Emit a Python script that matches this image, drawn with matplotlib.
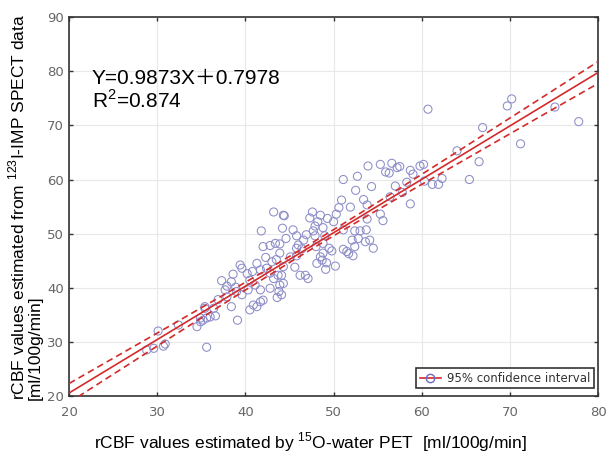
import numpy as np
import matplotlib
matplotlib.use("Agg")
import matplotlib.pyplot as plt
from matplotlib.lines import Line2D

plt.rcParams['font.family'] = ['Liberation Sans', 'Noto Sans CJK JP', 'DejaVu Sans']
plt.rcParams['mathtext.fontset'] = 'custom'
plt.rcParams['mathtext.rm'] = 'Liberation Sans'

# PET (x) vs SPECT (y) rCBF values
pet = [28.8, 29.6, 30.1, 30.7, 30.9, 32.4, 34.5, 34.9, 35.2, 35.6, 35.4, 35.6, 34.9, 36.0, 36.6,
       36.4, 35.4, 38.4, 39.1, 40.5, 41.3, 40.9, 42.0, 41.7, 37.7, 37.9, 39.0, 39.6, 42.8, 43.9,
       43.8, 43.6, 40.5, 41.1, 40.3, 41.7, 38.6, 37.3, 38.4, 37.9, 41.3, 41.7, 42.4, 42.8, 43.2,
       43.7, 39.4, 39.6, 43.9, 43.5, 43.0, 42.0, 42.8, 43.4, 41.8, 43.2, 44.3, 44.2, 45.4, 45.8,
       46.6, 44.6, 43.9, 46.0, 46.4, 45.1, 45.8, 45.8, 45.6, 46.2, 46.8, 47.1, 44.3, 44.1, 44.3,
       44.1, 47.6, 48.5, 48.2, 49.3, 50.3, 50.0, 44.4, 47.7, 47.9, 48.8, 49.0, 47.9, 48.0, 48.8,
       49.5, 49.8, 48.8, 48.7, 49.2, 50.2, 49.1, 48.1, 48.5, 51.1, 51.5, 52.2, 51.7, 51.1, 52.4,
       53.0, 53.7, 52.1, 52.8, 52.4, 54.1, 53.6, 54.5, 53.8, 51.1, 52.7, 53.9, 52.5, 50.9, 51.9,
       53.4, 53.8, 55.3, 55.6, 54.3, 57.0, 55.3, 55.9, 56.3, 56.6, 57.2, 57.5, 58.7, 59.0, 58.3,
       60.3, 58.7, 60.2, 59.8, 62.3, 61.9, 61.2, 60.7, 64.0, 65.4, 66.5, 66.9, 71.2, 69.7, 70.2,
       75.1, 77.8, 56.4, 57.8, 40.2, 42.3, 46.9, 50.6, 47.3, 36.9, 38.9, 40.8]
spect = [28.5, 28.8, 32.0, 29.2, 29.6, 33.1, 32.8, 33.7, 34.0, 34.4, 36.2, 29.0, 34.4, 34.6, 34.8,
         36.2, 36.5, 36.5, 34.0, 35.9, 36.5, 36.8, 37.7, 37.4, 39.6, 38.3, 39.3, 38.7, 39.9, 40.5,
         39.3, 38.2, 41.4, 40.5, 39.6, 39.6, 42.5, 41.3, 41.1, 40.3, 44.5, 43.3, 43.6, 42.7, 41.7,
         42.3, 44.2, 43.6, 46.4, 45.2, 44.8, 47.6, 47.8, 48.2, 50.5, 54.0, 53.4, 51.0, 50.7, 49.6,
         48.8, 49.1, 48.1, 47.9, 47.2, 45.7, 47.3, 45.9, 43.8, 42.3, 42.3, 41.7, 43.9, 42.3, 40.8,
         38.7, 54.0, 53.4, 52.2, 52.8, 53.6, 52.2, 53.3, 50.5, 49.6, 51.1, 49.6, 51.4, 47.6, 48.2,
         47.3, 46.8, 46.4, 45.1, 44.6, 44.0, 43.4, 44.5, 45.7, 47.1, 46.7, 45.9, 46.3, 50.7, 50.5,
         50.5, 50.7, 48.8, 49.1, 47.6, 48.8, 48.5, 47.3, 52.7, 60.0, 60.6, 62.5, 58.0, 56.2, 54.9,
         56.3, 55.3, 53.6, 52.4, 58.7, 58.8, 62.8, 61.4, 61.2, 63.0, 62.2, 62.4, 61.7, 61.0, 59.5,
         59.7, 55.5, 62.8, 62.5, 60.2, 59.1, 59.1, 73.0, 65.3, 60.0, 63.3, 69.6, 66.6, 73.6, 74.9,
         73.4, 70.7, 56.8, 57.6, 42.6, 45.6, 49.8, 54.8, 52.9, 37.8, 40.1, 43.0]

slope = 0.9873
intercept = 0.7978
r2 = 0.874

x = np.array(pet)
y = np.array(spect)

# regression line and 95% confidence band of the mean (residual sd from the reported R^2)
xs = np.linspace(20, 80, 200)
fit = slope * xs + intercept
n = len(x)
s = np.sqrt((1 - r2) * np.sum((y - y.mean()) ** 2) / (n - 2))
se = s * np.sqrt(1.0 / n + (xs - x.mean()) ** 2 / np.sum((x - x.mean()) ** 2))
band = 1.97 * se

fig = plt.figure(figsize=(6.06, 4.53), dpi=100)
ax = fig.add_axes([0.114, 0.126, 0.873, 0.836])

ax.grid(True, color='#e8e8e8', linewidth=0.8)
ax.set_axisbelow(True)

red = '#d42a2a'
ax.scatter(x, y, s=34, facecolors='none', edgecolors='#8c8cc8', linewidths=0.75, zorder=2)
ax.plot(xs, fit, color=red, linewidth=1.2, zorder=3)
ax.plot(xs, fit + band, color=red, linewidth=1.2, linestyle=(0, (4, 2.5)), zorder=3)
ax.plot(xs, fit - band, color=red, linewidth=1.2, linestyle=(0, (4, 2.5)), zorder=3)

ax.set_xlim(20, 80)
ax.set_ylim(20, 90)
ax.set_xticks(np.arange(20, 81, 10))
ax.set_yticks(np.arange(20, 91, 10))
ax.tick_params(direction='in', length=3, width=1, color='#333333', top=True, right=True,
               labelsize=9.5, labelcolor='#666666')
ax.tick_params(axis='x', pad=7)
for lab in ax.get_xticklabels() + ax.get_yticklabels():
    lab.set_family('DejaVu Sans')
for sp in ax.spines.values():
    sp.set_color('#333333')
    sp.set_linewidth(1.2)

ax.text(22.6, 77.6, 'Y=0.9873X\uff0b0.7978', fontsize=15, va='baseline')
ax.text(22.6, 73.3, 'R$^2$=%.3f' % r2, fontsize=15, va='baseline')

ax.set_xlabel(r'rCBF values estimated by $^{15}$O-water PET  [ml/100g/min]', fontsize=12.5)
ax.xaxis.set_label_coords(0.456, -0.09)
ax.set_ylabel('rCBF values estimated from $^{123}$I-IMP SPECT data\n[ml/100g/min]',
              fontsize=12.5, multialignment='left', linespacing=1.05)
ax.yaxis.set_label_coords(-0.05, 0.5)

handle = Line2D([], [], color=red, linewidth=1.2, marker='o', markersize=6,
                markerfacecolor='none', markeredgecolor='#6a6ac0')
leg = ax.legend([handle], ['95% confidence interval'], loc='lower right',
                bbox_to_anchor=(0.992, 0.02), fancybox=False, framealpha=1,
                edgecolor='#333333', prop={'family': 'DejaVu Sans', 'size': 8.5},
                handlelength=1.8, borderpad=0.3, handletextpad=0.5, borderaxespad=0)
leg.get_frame().set_linewidth(1.2)
for t in leg.get_texts():
    t.set_color('#333333')

fig.savefig('out.png', dpi=100)
